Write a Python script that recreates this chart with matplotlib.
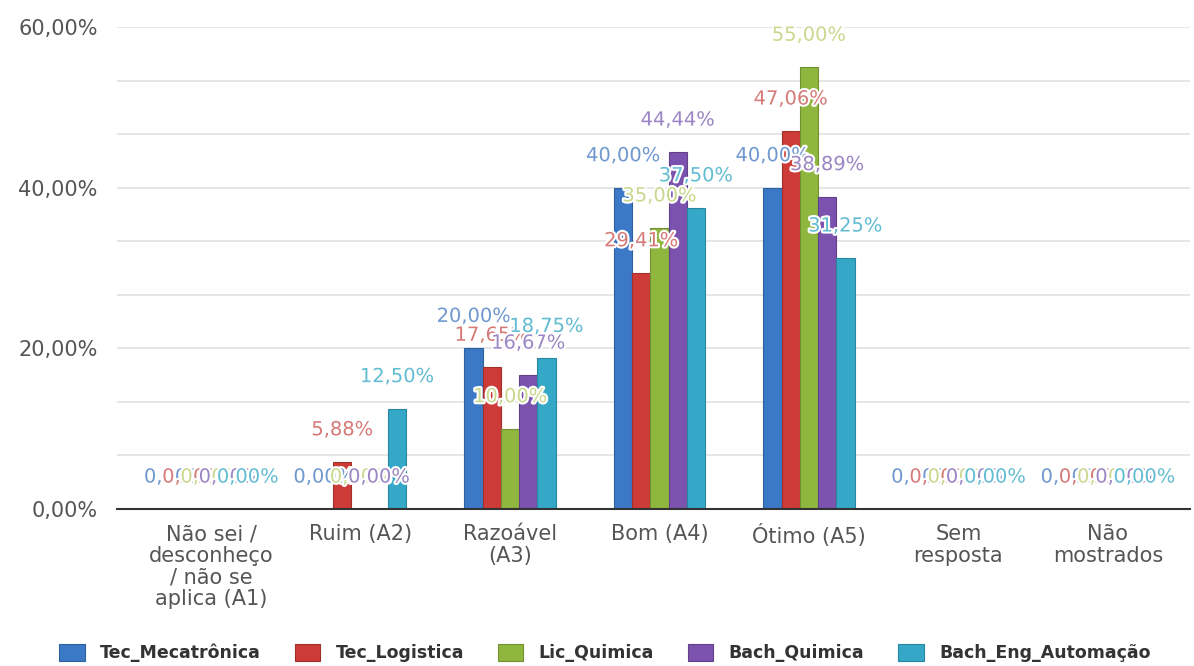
import matplotlib.pyplot as plt
import matplotlib.patheffects as pe
from matplotlib.ticker import MultipleLocator, FixedLocator
import numpy as np

categories = ["Não sei /\ndesconheço\n/ não se\naplica (A1)", "Ruim (A2)", "Razoável\n(A3)",
              "Bom (A4)", "Ótimo (A5)", "Sem\nresposta", "Não\nmostrados"]
series = ["Tec_Mecatrônica", "Tec_Logistica", "Lic_Quimica", "Bach_Quimica", "Bach_Eng_Automação"]

tec_mecatronica = [0.00, 0.00, 20.00, 40.00, 40.00, 0.00, 0.00]
tec_logistica = [0.00, 5.88, 17.65, 29.41, 47.06, 0.00, 0.00]
lic_quimica = [0.00, 0.00, 10.00, 35.00, 55.00, 0.00, 0.00]
bach_quimica = [0.00, 0.00, 16.67, 44.44, 38.89, 0.00, 0.00]
bach_eng_automacao = [0.00, 12.50, 18.75, 37.50, 31.25, 0.00, 0.00]

values = [tec_mecatronica, tec_logistica, lic_quimica, bach_quimica, bach_eng_automacao]
bar_colors = ["#3b78c6", "#cc3b37", "#8fb63e", "#7b52ae", "#35a8c8"]
edge_colors = ["#2f609e", "#a32f2c", "#729132", "#62418b", "#2a86a0"]
label_colors = ["#6e98cf", "#d67a78", "#c9d88e", "#9a86c4", "#62bcd2"]

plt.rcParams['font.family'] = ['DejaVu Sans']

fig = plt.figure(figsize=(11.94, 6.66), dpi=100)
ax = fig.add_axes([117 / 1194, 1 - 509 / 666, (1190 - 117) / 1194, (509 - 27) / 666])

x = np.arange(len(categories))
width = 0.122

for i, (vals, name) in enumerate(zip(values, series)):
    pos = x + (i - 2) * width
    ax.bar(pos, vals, width, color=bar_colors[i], edgecolor=edge_colors[i],
           linewidth=0.8, label=name, zorder=3)

# data labels drawn after all bars, series order
for i, vals in enumerate(values):
    pos = x + (i - 2) * width
    for p, v in zip(pos, vals):
        txt = f"{v:.2f}".replace(".", ",") + "%"
        ax.annotate(txt, (p, v), xytext=(0, 23), textcoords="offset points",
                    ha="center", va="center", fontsize=14, color=label_colors[i],
                    zorder=5,
                    path_effects=[pe.withStroke(linewidth=3, foreground="white")])

ax.set_xlim(-0.63, 6.55)
ax.set_ylim(0, 60)
ax.yaxis.set_major_locator(FixedLocator([0, 20, 40, 60]))
ax.yaxis.set_minor_locator(MultipleLocator(20 / 3))
ax.set_yticklabels(["0,00%", "20,00%", "40,00%", "60,00%"])
ax.set_xticks(x)
ax.set_xticklabels(categories, linespacing=1.1)

ax.grid(axis="y", which="both", color="#e2e2e2", linewidth=1.2, zorder=0)
ax.set_axisbelow(True)
for s in ["top", "right", "left"]:
    ax.spines[s].set_visible(False)
ax.spines["bottom"].set_color("#333333")
ax.spines["bottom"].set_linewidth(1.5)
ax.spines["bottom"].set_zorder(4)

ax.tick_params(axis="y", which="both", length=0, pad=14, labelsize=15, labelcolor="#555555")
ax.tick_params(axis="x", length=0, pad=11, labelsize=15, labelcolor="#555555")

fig.legend(loc="center", bbox_to_anchor=(605 / 1194, 1 - 653 / 666), ncol=5, frameon=False,
           prop={"weight": "bold", "size": 12.5}, labelcolor="#333333",
           columnspacing=1.95, handletextpad=0.9, handlelength=1.45, handleheight=1.1,
           borderpad=0, borderaxespad=0)

fig.savefig("out.png", dpi=100)
